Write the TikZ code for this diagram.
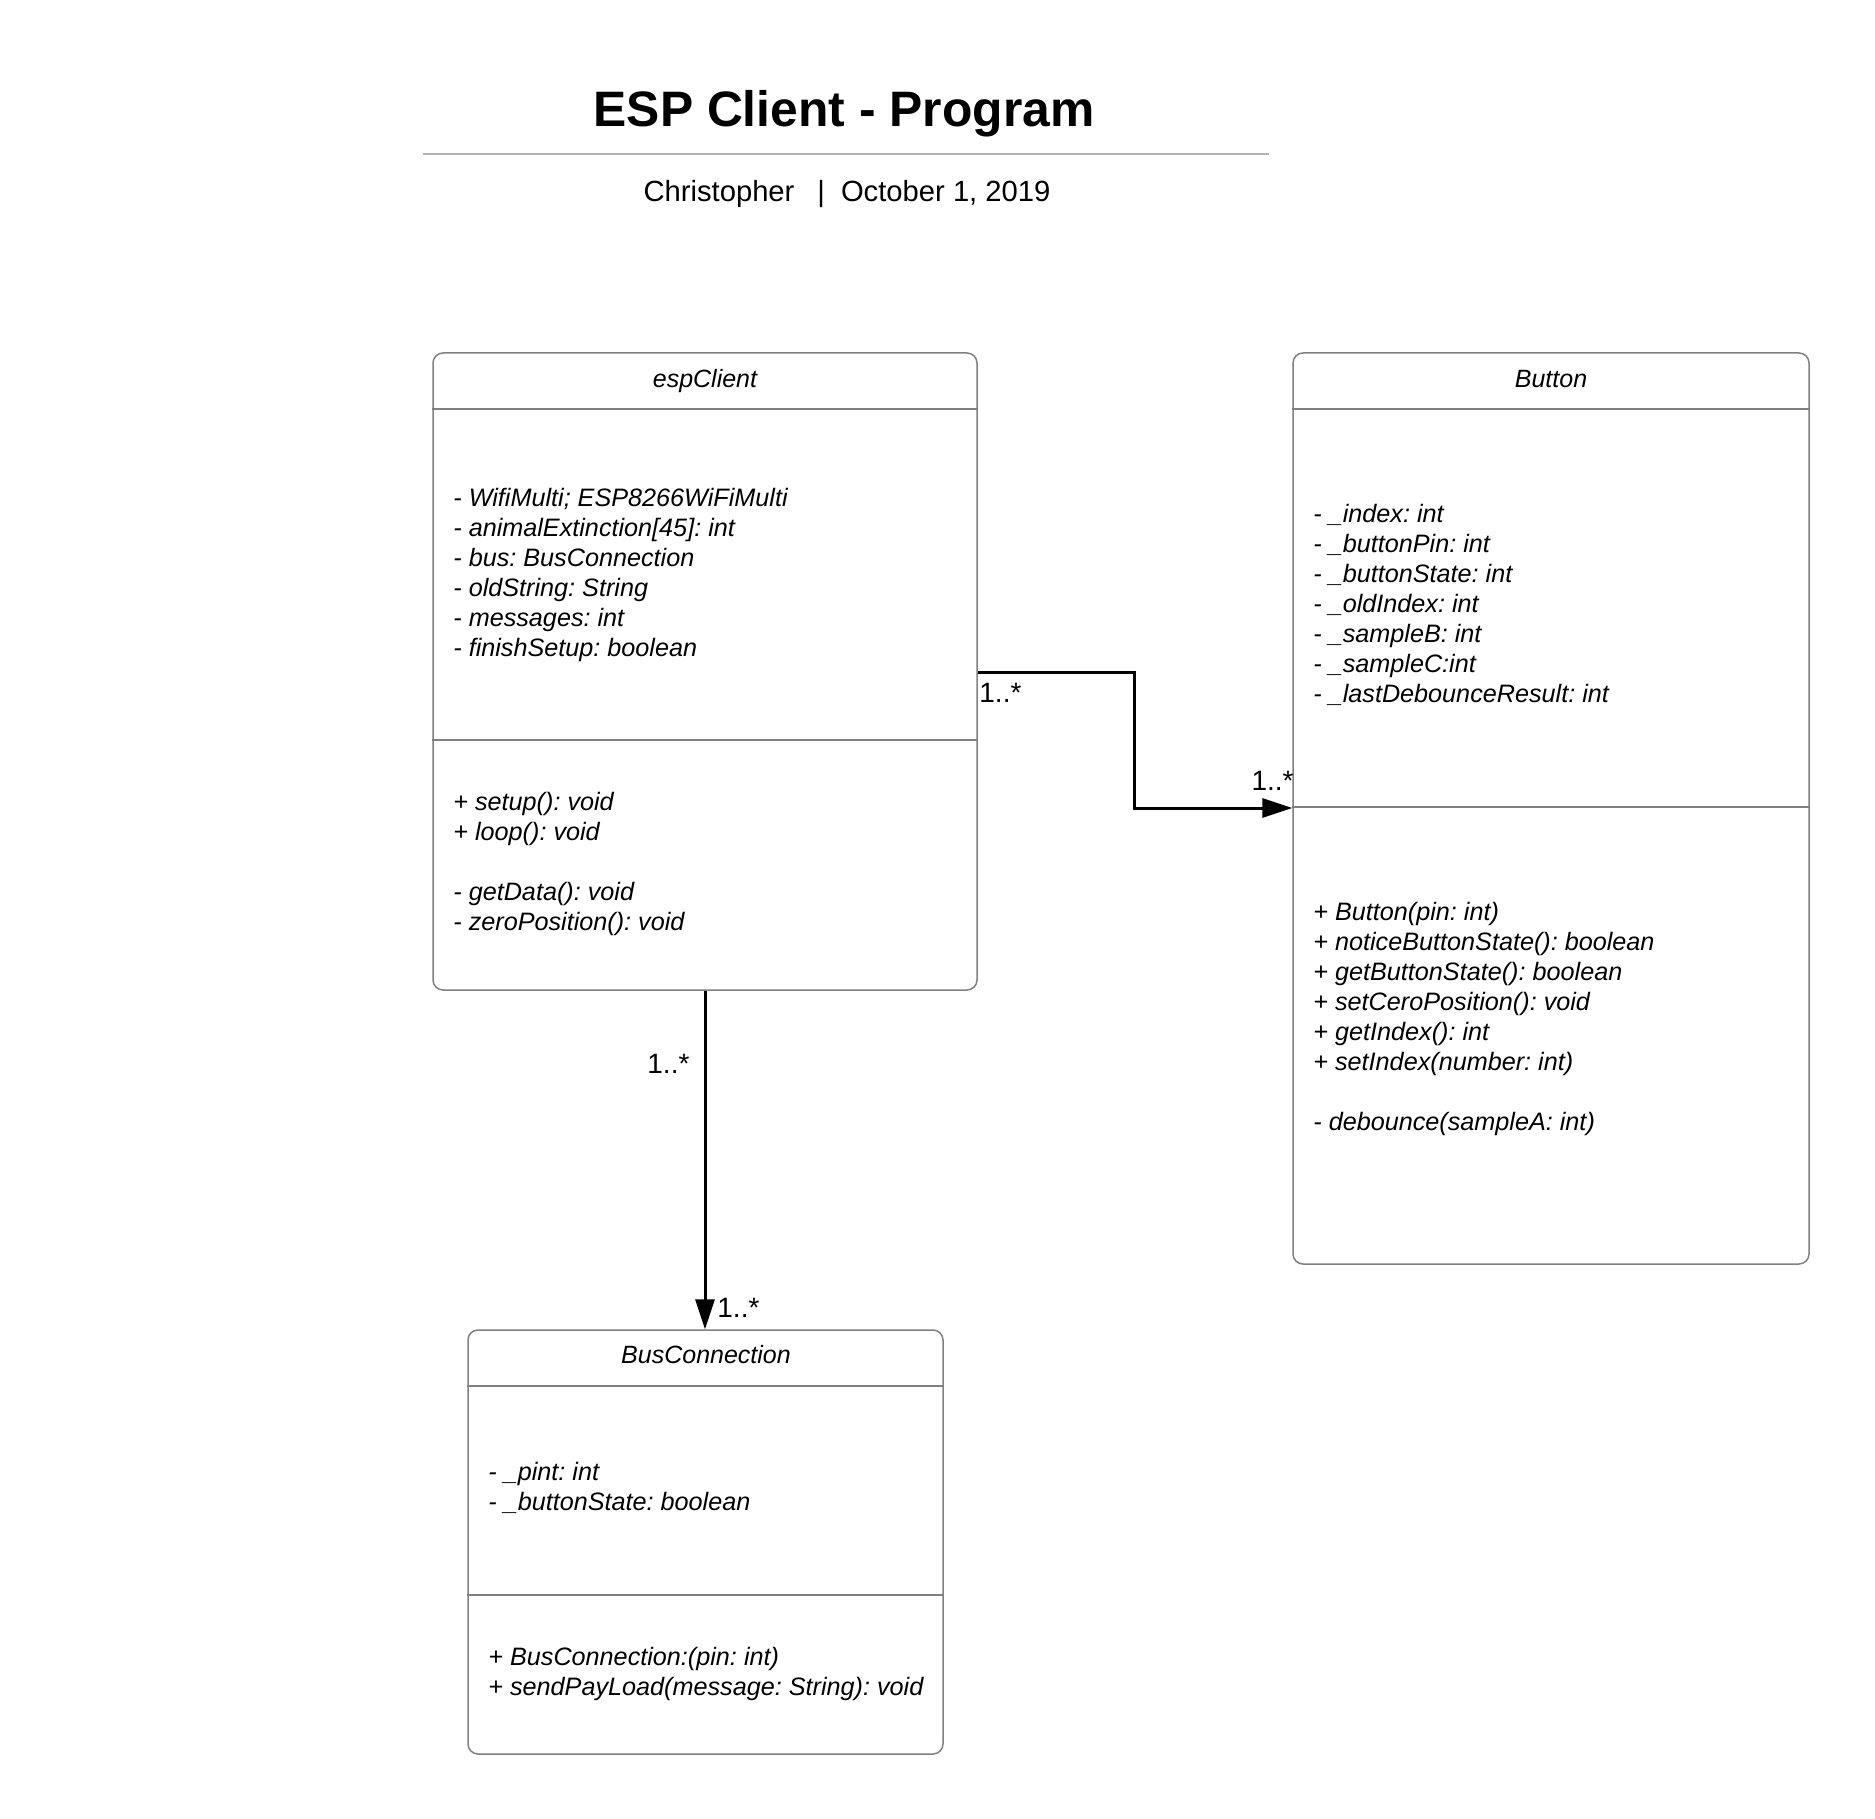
\documentclass[tikz,border=0pt]{standalone}
\usepackage{fontspec}
\setmainfont{Liberation Sans}
\usetikzlibrary{positioning,fit,arrows.meta}
\definecolor{boxline}{HTML}{808080}
\definecolor{ruleline}{HTML}{B3B3B3}
\frenchspacing

\tikzset{
  classbox/.style={draw=boxline, line width=0.75pt, rounded corners=5pt, inner sep=0pt},
  divider/.style={draw=boxline, line width=0.75pt},
  classname/.style={anchor=base, inner sep=0pt, font=\fontsize{12.5}{15}\selectfont\itshape},
  member/.style={anchor=base west, inner sep=0pt, font=\fontsize{12.6}{15}\selectfont\itshape},
  mult/.style={inner sep=0pt, font=\fontsize{14}{17}\selectfont},
  assoc/.style={line width=1.5pt, -{Triangle[length=15pt,width=9.5pt]}},
}

\begin{document}
\begin{tikzpicture}[x=0.5pt,y=-0.5pt] % one unit = one pixel of the sketch, y goes down
  \path[use as bounding box, fill=white] (0,0) rectangle (1875,1819);

  % heading
  \node[anchor=base, inner sep=0pt, font=\fontsize{24.9}{30}\selectfont\bfseries] (title) at (844,127) {ESP Client - Program};
  \draw[ruleline, line width=1.15pt] (423,154) -- (1269,154);
  \node[anchor=base, inner sep=0pt, font=\fontsize{14.6}{17}\selectfont] (byline) at (847,202) {Christopher\hspace{11.5pt}|\hspace{8pt}October 1, 2019};

  % espClient
  \node[classbox, fit={(433,353) (977,990)}] (esp) {};
  \draw[divider] (esp.west |- 0,409) -- (esp.east |- 0,409);
  \draw[divider] (esp.west |- 0,740) -- (esp.east |- 0,740);
  \node[classname] (esp-name) at (705,387) {espClient};
  \foreach \m [count=\i from 0] in {- WifiMulti; ESP8266WiFiMulti, - animalExtinction[45]: int, - bus: BusConnection, - oldString: String, - messages: int, - finishSetup: boolean}
    \node[member] (esp-a\i) at (453,506+30.1*\i) {\m};
  \foreach \m/\k in {+ setup(): void/0, + loop(): void/1, - getData(): void/3, - zeroPosition(): void/4}
    \node[member] (esp-m\k) at (453,810+30*\k) {\m};

  % Button
  \node[classbox, fit={(1293,353) (1809,1264)}] (btn) {};
  \draw[divider] (btn.west |- 0,409) -- (btn.east |- 0,409);
  \draw[divider] (btn.west |- 0,807) -- (btn.east |- 0,807);
  \node[classname] (btn-name) at (1551,387) {Button};
  \foreach \m [count=\i from 0] in {- \_index: int, - \_buttonPin: int, - \_buttonState: int, - \_oldIndex: int, - \_sampleB: int, - \_sampleC:int, - \_lastDebounceResult: int}
    \node[member] (btn-a\i) at (1313,522+30.15*\i) {\m};
  \foreach \m/\k in {+ Button(pin: int)/0, + noticeButtonState(): boolean/1, + getButtonState(): boolean/2, + setCeroPosition(): void/3, + getIndex(): int/4, + setIndex(number: int)/5, - debounce(sampleA: int)/7}
    \node[member] (btn-m\k) at (1313,920+30*\k) {\m};

  % BusConnection
  \node[classbox, fit={(468,1330) (943,1754)}] (bus) {};
  \draw[divider] (bus.west |- 0,1386) -- (bus.east |- 0,1386);
  \draw[divider] (bus.west |- 0,1595) -- (bus.east |- 0,1595);
  \node[classname] (bus-name) at (706,1363) {BusConnection};
  \foreach \m [count=\i from 0] in {- \_pint: int, - \_buttonState: boolean}
    \node[member] (bus-a\i) at (488,1480+30.5*\i) {\m};
  \foreach \m [count=\i from 0] in {+ BusConnection:(pin: int), + sendPayLoad(message: String): void}
    \node[member] (bus-m\i) at (488,1665+30*\i) {\m};

  % associations
  \draw[assoc] (esp.east |- 0,672) -| (1134,808) -- (btn.west |- 0,808); % espClient -> Button
  \draw[assoc] (esp.south) -- (esp.south |- bus.north); % espClient -> BusConnection
  \node[mult, anchor=base west] (m-esp-btn) at (979,702) {1..*};
  \node[mult, anchor=base east] (m-btn) at (1294,790) {1..*};
  \node[mult, anchor=base west] (m-esp-bus) at (647,1073) {1..*};
  \node[mult, anchor=base west] (m-bus) at (717,1317) {1..*};
\end{tikzpicture}
\end{document}
